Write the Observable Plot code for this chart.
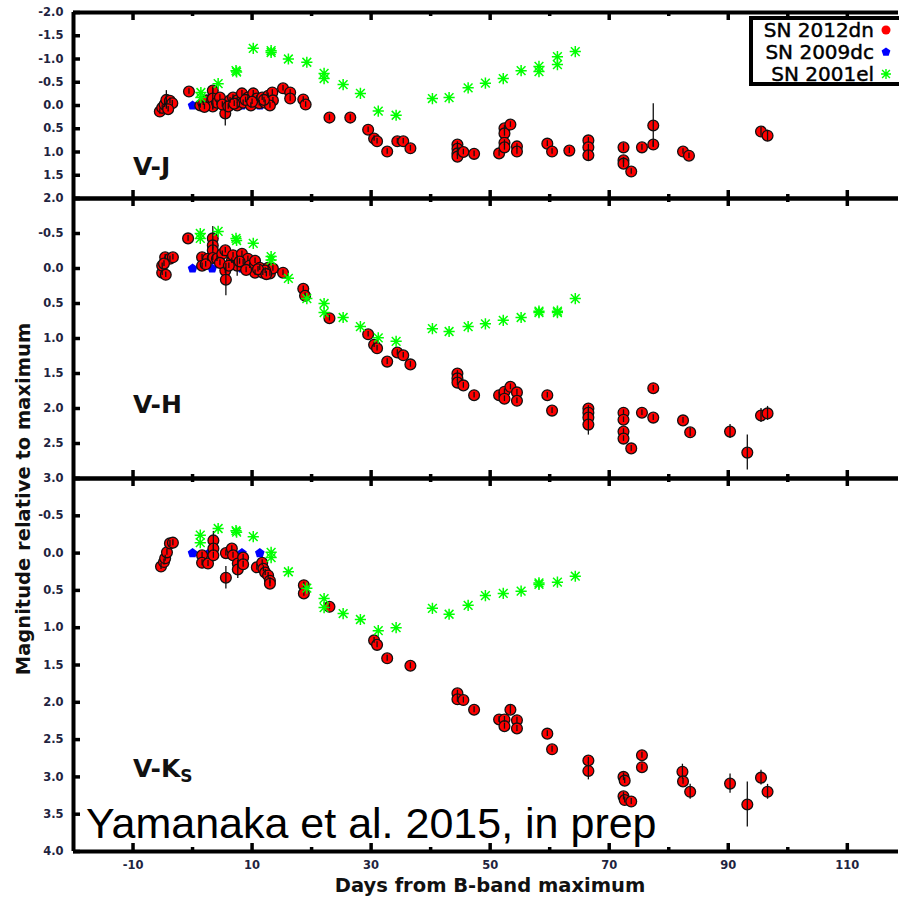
<!DOCTYPE html>
<html>
<head>
<meta charset="utf-8">
<script src="https://cdn.jsdelivr.net/npm/d3@7"></script>
<script src="https://cdn.jsdelivr.net/npm/@observablehq/plot@0.6"></script>
<style>
  body { margin: 0; background: #fff; }
  #chart { position: relative; width: 899px; height: 898px; overflow: hidden; background: #fff; }
  #chart > svg { position: absolute; left: 0; }
</style>
</head>
<body>
<div id="chart"></div>
<script>
// ---- Colour evolution, [day from B max, magnitude relative to maximum, error] ----
const vjSN2012dn = [
  [-5.5, 0.13], [-5.1, 0.05], [-4.7, -0.02], [-4.4, -0.12, 0.2], [-3.8, -0.1], [-3.4, -0.05], [-4.1, 0.08],
  [-0.6, -0.30],
  [1.3, 0.0], [1.8, -0.06], [2.4, -0.11], [3.4, -0.32], [3.4, -0.15, 0.25], [3.4, 0.02], [4.1, -0.06],
  [4.6, -0.17], [5.5, 0.17, 0.27], [6.3, -0.11], [6.8, -0.17], [7.5, -0.11], [7.5, 0.0], [8.3, -0.26],
  [8.5, -0.06], [9.3, -0.17], [9.8, 0.0], [10.2, -0.26], [10.8, -0.15], [11.2, -0.05], [11.7, -0.17],
  [12.2, -0.06], [12.7, -0.21], [13.4, -0.28], [13.5, -0.11], [13.0, 0.0], [15.2, -0.37], [16.4, -0.28],
  [16.4, -0.15], [18.6, -0.13], [19.0, -0.02],
  [2.0, 0.03], [5.0, -0.02], [6.0, 0.02], [7.0, -0.04], [8.9, -0.12], [10.0, -0.08], [12.0, -0.12],
  [23.0, 0.26], [26.5, 0.26], [29.5, 0.52], [30.5, 0.71], [31.0, 0.77], [32.7, 0.99], [34.4, 0.77],
  [35.4, 0.77], [36.6, 0.92],
  [44.5, 0.84], [44.5, 0.93], [44.5, 1.03], [44.5, 1.1], [45.5, 1.0], [47.3, 1.04], [51.5, 1.03],
  [52.4, 0.49], [52.4, 0.6], [53.4, 0.41], [52.4, 0.8], [52.4, 0.9], [54.5, 0.88], [54.5, 0.99],
  [59.6, 0.82], [60.4, 0.99], [63.3, 0.97], [66.5, 0.75], [66.5, 0.9], [66.5, 1.07, 0.12],
  [72.4, 0.9, 0.08], [72.4, 1.18], [72.4, 1.25, 0.08], [73.7, 1.42], [75.5, 0.9], [77.4, 0.43, 0.47],
  [77.4, 0.84], [82.4, 0.99], [83.4, 1.08], [95.5, 0.56, 0.1], [96.6, 0.65, 0.12]
];
const vjSN2009dc = [[0, 0], [3.3, 0], [8.3, 0], [11.3, 0]];
const vjSN2001el = [
  [1.4, -0.28], [1.4, -0.17], [4.3, -0.47], [7.3, -0.75], [7.4, -0.72], [10.2, -1.23], [13.2, -1.18],
  [13.2, -1.14], [16.1, -1.0], [19.2, -0.93], [22.1, -0.69], [22.1, -0.58], [25.3, -0.45], [28.2, -0.26],
  [31.2, 0.12], [34.2, 0.21], [40.3, -0.15], [43.1, -0.17], [46.3, -0.38], [49.2, -0.48], [52.2, -0.58],
  [55.2, -0.75], [58.2, -0.84], [58.2, -0.73], [61.3, -1.05], [61.3, -0.88], [64.3, -1.16]
];

const vhSN2012dn = [
  [-5.1, 0.06], [-5.1, -0.04], [-4.6, -0.16], [-3.8, -0.14], [-3.3, -0.16], [-4.8, -0.07], [-4.5, 0.09],
  [-0.75, -0.43],
  [1.6, -0.16], [1.6, -0.04], [2.6, -0.14], [3.4, -0.43, 0.17], [3.4, -0.33], [3.4, -0.26], [3.4, -0.15],
  [4.1, -0.14], [5.0, -0.21], [5.5, -0.26], [5.5, 0.03], [5.6, 0.16, 0.23], [6.6, -0.11], [6.8, -0.19],
  [7.5, -0.04, 0.15], [8.3, -0.21], [8.5, -0.09], [9.3, -0.14], [9.6, -0.04], [10.5, -0.11], [10.5, 0.06],
  [11.3, -0.01], [11.8, 0.06], [12.7, -0.01], [13.0, 0.07], [13.5, 0.0], [12.2, 0.03], [15.2, 0.06],
  [2.2, -0.06], [4.6, -0.08], [6.1, -0.04], [7.9, -0.1], [9.0, 0.02], [11.0, 0.01], [12.4, 0.08],
  [18.6, 0.29], [18.9, 0.39], [23.0, 0.71],
  [29.5, 0.94], [30.5, 1.09], [31.0, 1.14], [32.7, 1.33], [34.4, 1.2], [35.4, 1.24], [36.6, 1.37],
  [44.5, 1.5], [44.5, 1.57], [44.5, 1.63], [45.5, 1.67], [47.3, 1.81], [51.5, 1.81], [52.4, 1.76],
  [52.4, 1.86], [53.4, 1.69], [54.5, 1.77], [54.5, 1.89], [59.6, 1.81], [60.4, 2.03],
  [66.5, 2.0], [66.5, 2.06], [66.5, 2.13], [66.5, 2.23, 0.15], [72.4, 2.06], [72.4, 2.16], [72.4, 2.33],
  [72.4, 2.43], [73.7, 2.57], [75.5, 2.06], [77.4, 1.71], [77.4, 2.13], [82.4, 2.17], [83.6, 2.34, 0.06],
  [90.3, 2.33, 0.1], [93.2, 2.63, 0.25], [95.5, 2.1, 0.1], [96.6, 2.07, 0.1]
];
const vhSN2009dc = [[0, 0], [3.3, 0], [8.3, 0], [11.3, 0]];
const vhSN2001el = [
  [1.3, -0.5], [1.3, -0.43], [4.3, -0.53], [7.3, -0.43], [7.4, -0.4], [10.2, -0.36], [13.2, -0.17],
  [13.2, -0.12], [16.1, 0.14], [19.2, 0.43], [22.1, 0.5], [22.1, 0.63], [25.3, 0.7], [28.2, 0.83],
  [31.2, 0.99], [34.2, 1.04], [40.3, 0.86], [43.1, 0.9], [46.3, 0.83], [49.2, 0.79], [52.2, 0.74],
  [55.2, 0.7], [58.2, 0.63], [58.2, 0.61], [61.3, 0.63], [61.3, 0.61], [64.3, 0.43]
];

const vkSN2012dn = [
  [-5.3, 0.18], [-4.8, 0.12], [-4.6, 0.07], [-4.3, -0.01], [-3.8, -0.13], [-3.3, -0.14],
  [1.6, 0.03], [1.6, 0.13], [2.6, 0.14], [3.5, -0.17, 0.12], [3.5, -0.06], [3.5, 0.03], [5.6, 0.0],
  [5.6, 0.33, 0.15], [6.6, -0.06], [6.8, 0.03], [7.6, 0.14], [7.6, 0.22, 0.12], [8.5, 0.06], [8.5, 0.15],
  [10.8, 0.19], [11.7, 0.13], [11.9, 0.21], [12.2, 0.26], [12.7, 0.3], [13.0, 0.37], [13.0, 0.41],
  [18.7, 0.43], [18.7, 0.54], [23.0, 0.72],
  [30.5, 1.17], [31.0, 1.23], [32.7, 1.41], [36.6, 1.51],
  [44.5, 1.88], [44.5, 1.96], [45.5, 1.97], [47.3, 2.1], [51.5, 2.23], [52.4, 2.23], [52.4, 2.32],
  [53.4, 2.1, 0.06], [54.5, 2.24], [54.5, 2.35], [59.6, 2.42], [60.4, 2.63], [66.5, 2.78],
  [66.5, 2.92, 0.12], [72.4, 3.0, 0.05], [72.6, 3.05], [72.4, 3.26, 0.05], [72.6, 3.31], [73.7, 3.33],
  [75.5, 2.71], [75.5, 2.87], [82.3, 2.93, 0.1], [82.4, 3.06], [83.6, 3.2, 0.1], [90.3, 3.09, 0.13],
  [93.2, 3.37, 0.3], [95.5, 3.01, 0.1], [96.6, 3.2, 0.1]
];
const vkSN2009dc = [[0, 0], [2.8, 0], [8.3, 0], [11.3, 0]];
const vkSN2001el = [
  [1.3, -0.24], [1.3, -0.14], [4.3, -0.33], [7.3, -0.30], [7.4, -0.28], [10.2, -0.22], [13.2, -0.01],
  [13.2, 0.06], [16.1, 0.25], [19.2, 0.47], [22.1, 0.61], [22.1, 0.73], [25.3, 0.81], [28.2, 0.89],
  [31.2, 1.04], [34.2, 1.0], [40.3, 0.74], [43.1, 0.82], [46.3, 0.7], [49.2, 0.57], [52.2, 0.54],
  [55.2, 0.51], [58.2, 0.42], [58.2, 0.4], [61.3, 0.39], [64.3, 0.31]
];

// Axis ticks
const xMajorTicks = [-10, 10, 30, 50, 70, 90, 110];
const xMinorTicks = [0, 20, 40, 60, 80, 100];
const vjTicks = [-2, -1.5, -1, -0.5, 0, 0.5, 1, 1.5, 2];
const vhTicks = [-0.5, 0, 0.5, 1, 1.5, 2, 2.5, 3];
const vkTicks = [-0.5, 0, 0.5, 1, 1.5, 2, 2.5, 3, 3.5, 4];

const legendNames = ["SN 2012dn", "SN 2009dc", "SN 2001el"];

// ---- Symbols ----
const asterisk8 = {
  draw(ctx, size) {
    const r = Math.sqrt(size / Math.PI), d = r * 0.78;
    ctx.moveTo(-r, 0); ctx.lineTo(r, 0);
    ctx.moveTo(0, -r); ctx.lineTo(0, r);
    ctx.moveTo(-d, -d); ctx.lineTo(d, d);
    ctx.moveTo(-d, d); ctx.lineTo(d, -d);
  }
};
const pentagon = {
  draw(ctx, size) {
    const r = Math.sqrt(size / Math.PI) * 1.1;
    for (let i = 0; i < 5; i++) {
      const a = -Math.PI / 2 + i * 2 * Math.PI / 5;
      const px = r * Math.cos(a), py = r * Math.sin(a);
      if (i === 0) ctx.moveTo(px, py); else ctx.lineTo(px, py);
    }
    ctx.closePath();
  }
};

const RED = "#ff0000", BLUE = "#0000ff", GREEN = "#00ff00";
const W = 899, ML = 73, MR = 1;
const TICK_FONT = "DejaVu Sans, Verdana, sans-serif";

const panels = [
  {top: 0, height: 198, marginTop: 12, marginBottom: 0, domain: [2, -2], ticks: vjTicks, labels: vjTicks,
   red: vjSN2012dn, blue: vjSN2009dc, green: vjSN2001el, err: 0.06},
  {top: 198, height: 280, marginTop: 0, marginBottom: 0, domain: [3, -1], ticks: [-1, ...vhTicks], labels: vhTicks,
   red: vhSN2012dn, blue: vhSN2009dc, green: vhSN2001el, err: 0.04},
  {top: 478, height: 420, marginTop: 0, marginBottom: 47, domain: [4, -1], ticks: [-1, ...vkTicks], labels: vkTicks,
   red: vkSN2012dn, blue: vkSN2009dc, green: vkSN2001el, err: 0.04, xAxis: true}
];

const chart = document.getElementById("chart");

for (const p of panels) {
  const innerH = p.height - p.marginTop - p.marginBottom;
  const innerW = W - ML - MR;
  const rows = arr => arr.map(([day, mag, err]) => ({day, mag, err: err ?? p.err}));
  const red = rows(p.red), blue = rows(p.blue), green = rows(p.green);
  const marks = [
    Plot.ruleY(p.ticks, {insetRight: innerW - 7, stroke: "#000", strokeWidth: 3.5}),
    Plot.ruleX(xMajorTicks, {insetBottom: innerH - 8, stroke: "#000", strokeWidth: 3.5}),
    Plot.ruleX(xMajorTicks, {insetTop: innerH - 8, stroke: "#000", strokeWidth: 3.5}),
    Plot.ruleX(xMinorTicks, {insetBottom: innerH - 4, stroke: "#000", strokeWidth: 3.5}),
    Plot.ruleX(xMinorTicks, {insetTop: innerH - 4, stroke: "#000", strokeWidth: 3.5}),
    Plot.axisY({ticks: p.labels, tickSize: 0, tickPadding: 10, tickFormat: d => d.toFixed(1),
      fontFamily: TICK_FONT, fontWeight: "bold", fontSize: 11.5, color: "#1f2440", label: null}),
    Plot.dot(blue, {x: "day", y: "mag", symbol: pentagon, r: 4.6, fill: BLUE, stroke: "none"}),
    Plot.dot(red, {x: "day", y: "mag", r: 5.4, fill: RED, stroke: "#111", strokeWidth: 1.3}),
    Plot.ruleX(red, {x: "day", y1: d => d.mag - d.err, y2: d => d.mag + d.err, stroke: "#111", strokeWidth: 1.3}),
    Plot.dot(green, {x: "day", y: "mag", symbol: asterisk8, r: 5.6, fill: "none", stroke: GREEN, strokeWidth: 1.5}),
    Plot.ruleX([-20], {stroke: "#000", strokeWidth: 4}),
    Plot.ruleY(p.domain, {stroke: "#000", strokeWidth: 4})
  ];
  if (p.xAxis) {
    marks.push(Plot.axisX({ticks: xMajorTicks, tickSize: 0, tickPadding: 9, tickFormat: d => String(d),
      fontFamily: TICK_FONT, fontWeight: "bold", fontSize: 11.5, color: "#1f2440", label: null}));
  }
  const svg = Plot.plot({
    width: W, height: p.height,
    marginLeft: ML, marginRight: MR, marginTop: p.marginTop, marginBottom: p.marginBottom,
    x: {domain: [-20, 118.6], axis: null},
    y: {domain: p.domain, axis: null},
    style: {background: "transparent", overflow: "visible", maxWidth: "none"},
    marks
  });
  svg.style.top = p.top + "px";
  chart.appendChild(svg);
}

// ---- Annotations: panel names, axis titles, legend, credit ----
const over = d3.select(chart).append("svg")
  .attr("width", W).attr("height", 898)
  .style("top", "0px").style("overflow", "visible");

const bold = (sel, size) => sel.attr("font-family", TICK_FONT).attr("font-weight", "bold").attr("font-size", size);

bold(over.append("text").attr("x", 133).attr("y", 175).attr("fill", "#111").text("V-J"), 25);
bold(over.append("text").attr("x", 133).attr("y", 413).attr("fill", "#111").text("V-H"), 25);
const vk = bold(over.append("text").attr("x", 133).attr("y", 777).attr("fill", "#111"), 25);
vk.append("tspan").text("V-K");
vk.append("tspan").attr("dy", 5).attr("font-size", 17).text("S");

bold(over.append("text").attr("x", 490).attr("y", 892).attr("text-anchor", "middle").attr("fill", "#111")
  .text("Days from B-band maximum"), 19.5);
bold(over.append("text").attr("transform", "translate(30,499) rotate(-90)").attr("text-anchor", "middle")
  .attr("fill", "#111").text("Magnitude relative to maximum"), 19.5);

over.append("text").attr("x", 86).attr("y", 838)
  .attr("font-family", "Liberation Sans, Arial, sans-serif").attr("font-size", 43).attr("fill", "#000")
  .text("Yamanaka et al. 2015, in prep");

// Legend box
const lg = over.append("g");
lg.append("rect").attr("x", 751).attr("y", 18).attr("width", 160).attr("height", 66)
  .attr("fill", "#fff").attr("stroke", "#000").attr("stroke-width", 4);
const legendSymbols = [
  {path: d3.symbol(d3.symbolCircle, Math.PI * 4.5 * 4.5)(), fill: RED, stroke: "none"},
  {path: d3.symbol(pentagon, Math.PI * 4.2 * 4.2)(), fill: BLUE, stroke: "none"},
  {path: d3.symbol(asterisk8, Math.PI * 5 * 5)(), fill: "none", stroke: GREEN}
];
legendNames.forEach((name, i) => {
  const yb = 37 + i * 22;
  lg.append("text").attr("x", 874).attr("y", yb).attr("text-anchor", "end")
    .attr("font-family", TICK_FONT).attr("font-size", 20).attr("fill", "#000")
    .attr("stroke", "#000").attr("stroke-width", 0.45).text(name);
  lg.append("path").attr("d", legendSymbols[i].path)
    .attr("transform", `translate(886,${yb - 7})`)
    .attr("fill", legendSymbols[i].fill).attr("stroke", legendSymbols[i].stroke).attr("stroke-width", 1.4);
});
</script>
</body>
</html>
